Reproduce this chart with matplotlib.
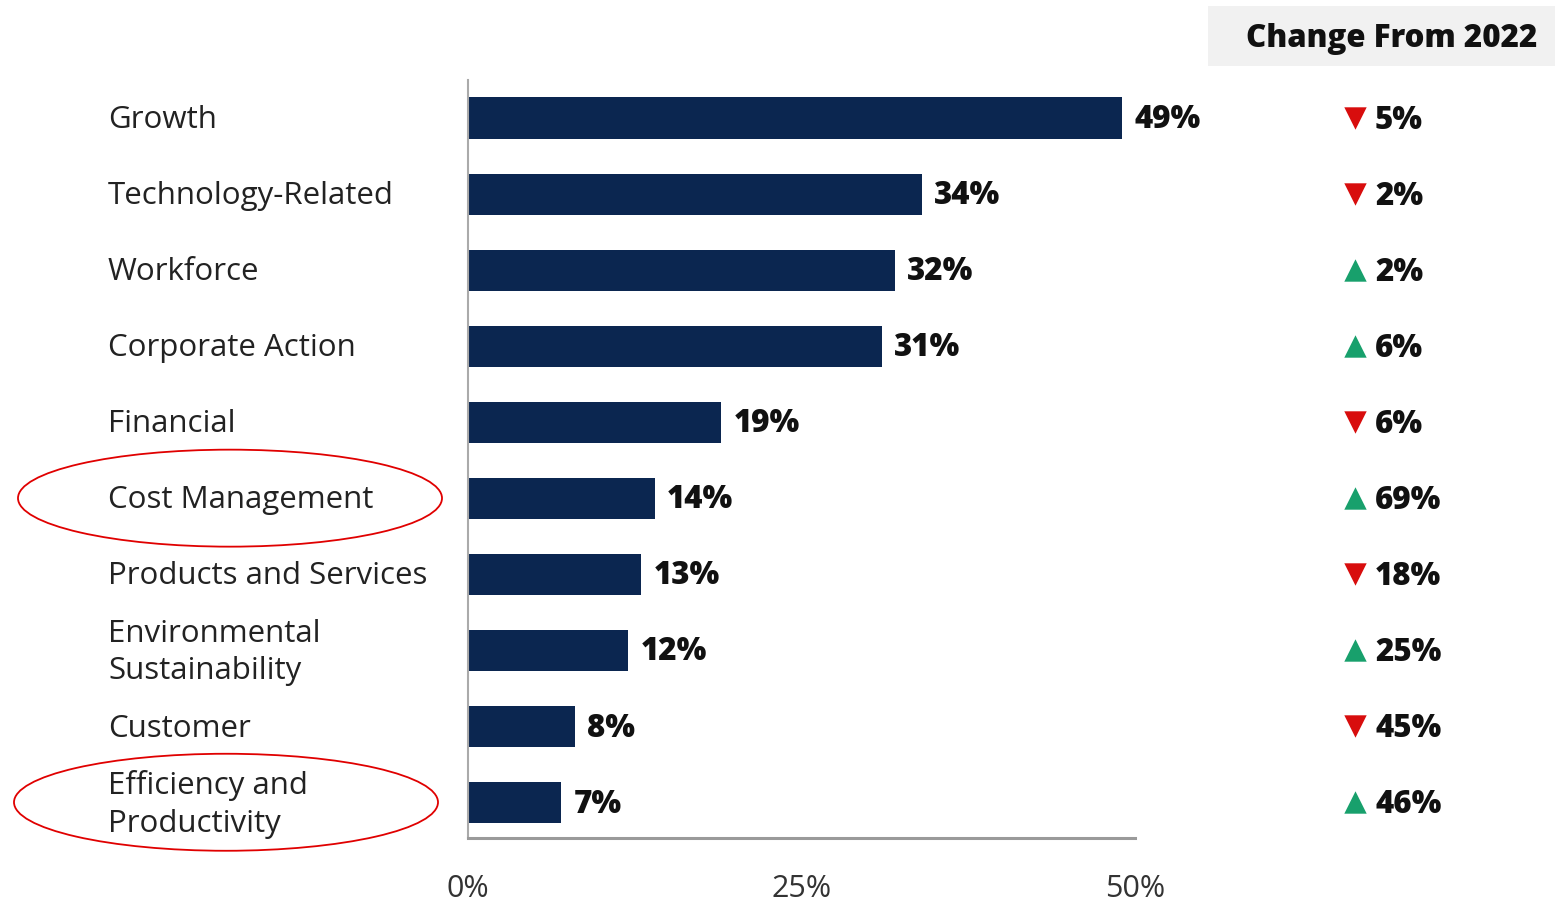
import matplotlib
matplotlib.use("Agg")
import matplotlib.pyplot as plt
from matplotlib.patches import Ellipse, Rectangle
from matplotlib.transforms import blended_transform_factory

plt.rcParams['font.family'] = ['Open Sans', 'DejaVu Sans']

categories = ["Growth", "Technology-Related", "Workforce", "Corporate Action", "Financial",
              "Cost Management", "Products and Services", "Environmental\nSustainability",
              "Customer", "Efficiency and\nProductivity"]
shares = [49, 34, 32, 31, 19, 14, 13, 12, 8, 7]
change = [5, 2, 2, 6, 6, 69, 18, 25, 45, 46]
direction = ["down", "down", "up", "up", "down", "up", "down", "up", "down", "up"]
xticks = [0, 25, 50]
header = "Change From 2022"
circled = ["Cost Management", "Efficiency and\nProductivity"]

navy = "#0b2650"
red = "#d80d0d"
green = "#18a06c"

W, H = 1555, 907
fig = plt.figure(figsize=(W / 100, H / 100), dpi=100)
ax = fig.add_axes([468 / W, 1 - 838 / H, 667 / W, (838 - 80) / H])

ypos = list(range(len(categories)))
ax.barh(ypos, shares, height=0.54, color=navy)
ax.set_xlim(0, 50)
ax.set_ylim(len(categories) - 0.53, -0.5)

for y, v in zip(ypos, shares):
    ax.annotate(f"{v}%", (v, y + 0.03), xytext=(9, 0), textcoords="offset points",
                va="center", ha="left", fontsize=22.5, fontweight="heavy", color="#111111")

ax.set_xticks(xticks)
ax.set_xticklabels([f"{t}%" for t in xticks], fontsize=22, color="#333333")
ax.tick_params(axis="x", length=0, pad=26)
ax.set_yticks([])
for s in ["top", "right"]:
    ax.spines[s].set_visible(False)
ax.spines["bottom"].set_color("#9a9a9a")
ax.spines["bottom"].set_linewidth(2.2)
ax.spines["left"].set_color("#aaaaaa")
ax.spines["left"].set_linewidth(1.5)

# category names, left aligned in the margin
lab_tr = blended_transform_factory(fig.transFigure, ax.transData)
for y, c in zip(ypos, categories):
    ax.text(108 / W, y + 0.03, c, transform=lab_tr, ha="left", va="center",
            fontsize=22.5, color="#222222", linespacing=1.32)

# change column
for y, v, d in zip(ypos, change, direction):
    ax.scatter([1355 / W], [y], transform=lab_tr, marker="v" if d == "down" else "^",
               s=260, color=red if d == "down" else green, clip_on=False, linewidths=0)
    ax.text(1375 / W, y + 0.04, f"{v}%", transform=lab_tr, ha="left", va="center",
            fontsize=22.5, fontweight="heavy", color="#111111")

fig.patches.append(Rectangle((1208 / W, 1 - 66 / H), (W - 1208) / W, 60 / H,
                             transform=fig.transFigure, facecolor="#f1f1f1", edgecolor="none"))
fig.text(1392 / W, 1 - 39 / H, header, ha="center", va="center",
         fontsize=22.5, fontweight="heavy", color="#111111")

# red ellipses around two categories
for c, cx in zip(circled, [230, 226]):
    y = categories.index(c)
    _, py = ax.transData.transform((0, y))
    fig.patches.append(Ellipse((cx / W, py / H), 424 / W, 97 / H, transform=fig.transFigure,
                               fill=False, edgecolor="#e00000", linewidth=1.3))

fig.savefig("out.png", dpi=100)
